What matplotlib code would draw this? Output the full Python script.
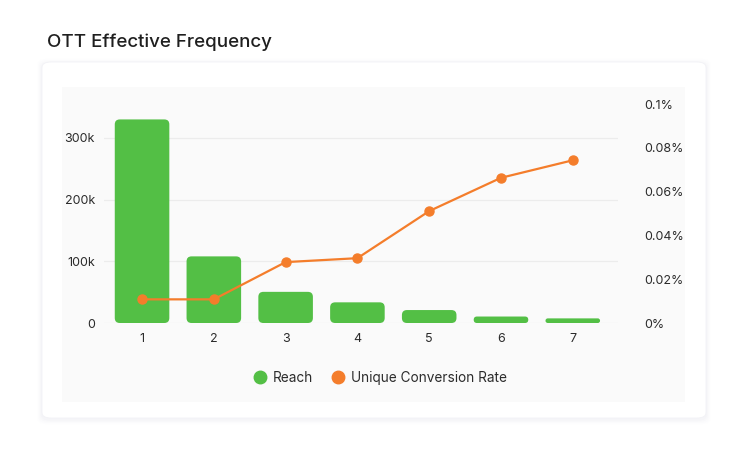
import matplotlib.pyplot as plt
from matplotlib.patches import FancyBboxPatch
from matplotlib.lines import Line2D

plt.rcParams['font.family'] = ['Inter', 'DejaVu Sans']

# data
frequency = ['1', '2', '3', '4', '5', '6', '7']
reach = [330000, 108000, 50500, 33500, 21000, 10500, 7500]
conversion_rate = [0.0108, 0.0108, 0.0278, 0.0296, 0.0511, 0.0663, 0.0743]
reach_ticks = [0, 100000, 200000, 300000]
reach_tick_labels = ['0', '100k', '200k', '300k']
rate_ticks = [0, 0.02, 0.04, 0.06, 0.08, 0.1]
rate_tick_labels = ['0%', '0.02%', '0.04%', '0.06%', '0.08%', '0.1%']

GREEN = '#53BF45'
ORANGE = '#F47D2B'
TEXT = '#2b2b2b'

W, H = 750, 458
fig = plt.figure(figsize=(W / 100, H / 100), dpi=100)
fig.patch.set_facecolor('white')


def fx(px):
    return px / W


def fy(py):
    return 1 - py / H


# card shadow + card
for i, a in enumerate([0.012, 0.015, 0.02, 0.025]):
    grow = (4 - i) * 1.2
    fig.patches.append(FancyBboxPatch(
        (fx(42 - grow), fy(418 + grow + 1.5)), fx(664 + 2 * grow), (356 + 2 * grow) / H,
        boxstyle='round,pad=0,rounding_size=0.013', transform=fig.transFigure,
        facecolor='#8088b0', edgecolor='none', alpha=a, zorder=0))
fig.patches.append(FancyBboxPatch(
    (fx(42), fy(418)), fx(664), 356 / H,
    boxstyle='round,pad=0,rounding_size=0.012', transform=fig.transFigure,
    facecolor='white', edgecolor='#f2f2f6', linewidth=0.6, zorder=1))
# inner panel
fig.patches.append(plt.Rectangle(
    (fx(62), fy(402)), fx(623), 315 / H, transform=fig.transFigure,
    facecolor='#fafafa', edgecolor='none', zorder=2))

fig.text(fx(47), fy(42), 'OTT Effective Frequency', fontsize=13.5,
         fontweight='medium', color='#1f1f1f', va='center', ha='left')

# axes
ax = fig.add_axes([fx(104), fy(323), fx(618 - 104), (323 - 104) / H])
ax.set_facecolor('none')
ax.set_zorder(3)
x = list(range(1, len(frequency) + 1))

bars = ax.bar(x, reach, width=0.76, color=GREEN)
ax.set_xlim(0.47, 7.63)
ax.set_ylim(0, 355000)
fig.canvas.draw()

# replace bars with rounded ones
px_per_x = ax.transData.transform((1, 0))[0] - ax.transData.transform((0, 0))[0]
px_per_y = ax.transData.transform((0, 100000))[1] - ax.transData.transform((0, 0))[1]
aspect = (100000 / px_per_y) / (1 / px_per_x)
for b in bars:
    bx, by = b.get_x(), b.get_y()
    bw, bh = b.get_width(), b.get_height()
    b.set_visible(False)
    r = min(5 / px_per_x, bh / aspect / 2)
    ax.add_patch(FancyBboxPatch(
        (bx, by), bw, bh, boxstyle=f'round,pad=0,rounding_size={r}',
        mutation_aspect=aspect, facecolor=GREEN, edgecolor='none', zorder=2))

ax.set_yticks(reach_ticks)
ax.set_yticklabels(reach_tick_labels)
ax.set_xticks(x)
ax.set_xticklabels(frequency)
ax.grid(axis='y', color='#ececec', linewidth=0.9)
ax.set_axisbelow(True)
for s in ax.spines.values():
    s.set_visible(False)
ax.tick_params(axis='both', length=0, labelsize=9, colors=TEXT)
ax.tick_params(axis='y', pad=6.5)
ax.tick_params(axis='x', pad=7)

ax2 = ax.twinx()
ax2.plot(x, conversion_rate, color=ORANGE, linewidth=1.6, marker='o',
         markersize=6.5, zorder=4)
ax2.set_ylim(0, 0.1)
ax2.set_yticks(rate_ticks)
ax2.set_yticklabels(rate_tick_labels)
for s in ax2.spines.values():
    s.set_visible(False)
ax2.tick_params(axis='y', length=0, labelsize=9, colors=TEXT, pad=19)

handles = [
    Line2D([], [], linestyle='none', marker='o', markersize=9, color=GREEN),
    Line2D([], [], linestyle='none', marker='o', markersize=9, color=ORANGE),
]
fig.legend(handles, ['Reach', 'Unique Conversion Rate'], loc='center',
           bbox_to_anchor=(fx(380), fy(378)), ncol=2, frameon=False,
           fontsize=9.8, handletextpad=0.4, columnspacing=1.4,
           labelcolor=TEXT, handlelength=1.0)

fig.savefig('out.png', dpi=100)
